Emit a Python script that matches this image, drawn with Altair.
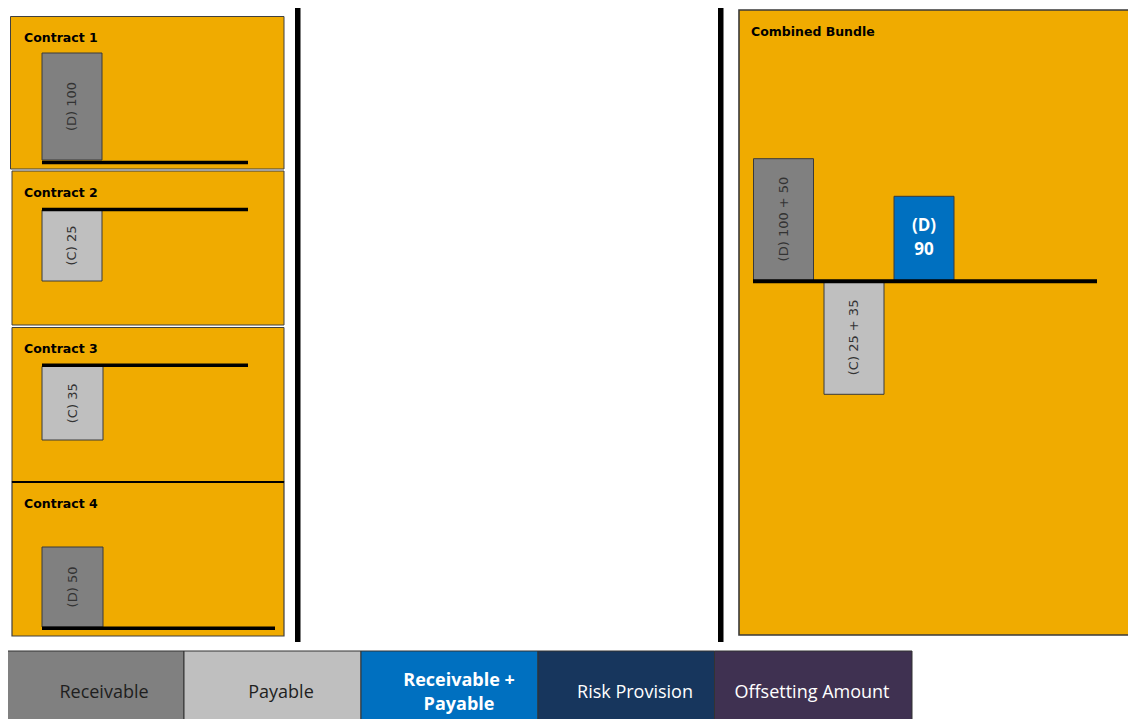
import altair as alt
import pandas as pd

# ---------------- data ----------------
contract_names = ["Contract 1", "Contract 2", "Contract 3", "Contract 4"]
contract_side = ["D", "C", "C", "D"]          # D = receivable (up), C = payable (down)
contract_amount = [100, 25, 35, 50]

bundle_title = "Combined Bundle"
bundle_labels = ["(D) 100 + 50", "(C) 25 + 35", "(D)\n90"]
bundle_side = ["D", "C", "D"]
bundle_amount = [150, 60, 90]
bundle_kind = ["Receivable", "Payable", "Receivable + Payable"]

legend_items = ["Receivable", "Payable", "Receivable + Payable",
                "Risk Provision", "Offsetting Amount"]
legend_text = ["Receivable", "Payable", "Receivable +\nPayable",
               "Risk Provision", "Offsetting Amount"]
legend_colors = ["#808080", "#BFBFBF", "#0070C0", "#17365D", "#3F3151"]

# ---------------- layout (page pixel frame) ----------------
W, H, OFF = 1120, 711, 8
ORANGE = "#F0AB00"

XS = alt.Scale(domain=[OFF, OFF + W], range=[0, W], nice=False, zero=False)


def frame_y():
    return alt.Scale(domain=[OFF, OFF + H], range=[0, H], nice=False, zero=False)


CS = alt.Scale(domain=legend_items, range=legend_colors)

panel_boxes = [(10.5, 284, 16.5, 169), (12, 284, 171, 325), (12, 284, 327.5, 482),
               (12, 284, 482, 636), (739, 1140, 10, 635)]
panel_strokes = ["#404040", "#404040", "#404040", "#404040", "#3a3a3a"]
panel_sw = [1, 1, 1, 1.2, 1.6]
title_pos = [(24, 41.5), (24, 197.3), (24, 353.3), (24, 508.3), (751, 36)]
baselines = [(42, 248, 162.5, 3.5), (42, 248, 209.5, 3.5), (42, 248, 365.3, 3.5),
             (42, 275, 628.3, 3.5), (753, 1097, 281.3, 4)]
separators = [(295, 300.5, 7, 642), (718, 723.5, 7, 642), (12, 284, 481, 483)]
legend_edges = [7, 184, 361, 538, 714.5, 912]
legend_y = (651, 745)
legend_text_x = [104, 281, 459, 635, 812]
legend_text_y = 693

contract_slots = [(42, 102), (42, 102), (42, 103), (42, 103)]
# where 0 and the full amount sit on each contract's (schematic) value axis
contract_calib = [(160, 53), (210, 281), (366.5, 440), (627, 547)]

bundle_slots = [(753.5, 813.5), (824, 884), (894, 954)]
# the bundle picture is schematic (not to scale): piecewise value axis
bundle_domain = [-60, 0, 45, 75, 90, 150]
bundle_range_px = [394.3, 280.5, 237.8, 219, 196.3, 158.7]

# ---------------- frame layers ----------------
frame_rows = []
for (x0, x1, y0, y1), st, sw in zip(panel_boxes, panel_strokes, panel_sw):
    frame_rows.append(dict(x0=x0, x1=x1, y0=y0, y1=y1, fill=ORANGE, stroke=st, sw=sw))
for (x0, x1, y0, y1) in separators:
    frame_rows.append(dict(x0=x0, x1=x1, y0=y0, y1=y1, fill="#000000", stroke="#000000", sw=0))
frame_df = pd.DataFrame(frame_rows)

frame = alt.Chart(frame_df).mark_rect().encode(
    x=alt.X("x0:Q", scale=XS, axis=None), x2="x1:Q",
    y=alt.Y("y0:Q", scale=frame_y(), axis=None), y2="y1:Q",
    fill=alt.Fill("fill:N", scale=None),
    stroke=alt.Stroke("stroke:N", scale=None),
    strokeWidth=alt.StrokeWidth("sw:Q", scale=None),
)

leg_df = pd.DataFrame(dict(
    item=legend_items,
    x0=legend_edges[:-1], x1=legend_edges[1:],
    y0=[legend_y[0]] * 5, y1=[legend_y[1]] * 5,
))
legend_boxes = alt.Chart(leg_df).mark_rect(stroke="#333333", strokeWidth=1).encode(
    x=alt.X("x0:Q", scale=XS, axis=None), x2="x1:Q",
    y=alt.Y("y0:Q", scale=frame_y(), axis=None), y2="y1:Q",
    color=alt.Color("item:N", scale=CS, legend=None),
)

base_df = pd.DataFrame([dict(x0=a, x1=b, y=y, sw=s) for a, b, y, s in baselines])
base_rules = alt.Chart(base_df).mark_rule(color="#000000").encode(
    x=alt.X("x0:Q", scale=XS, axis=None), x2="x1:Q",
    y=alt.Y("y:Q", scale=frame_y(), axis=None),
    strokeWidth=alt.StrokeWidth("sw:Q", scale=None),
)

title_df = pd.DataFrame(dict(
    t=contract_names + [bundle_title],
    x=[p[0] for p in title_pos], y=[p[1] for p in title_pos],
))
titles = alt.Chart(title_df).mark_text(
    font="DejaVu Sans", fontWeight="bold", fontSize=12.5, align="left",
    baseline="alphabetic", color="#000000",
).encode(
    x=alt.X("x:Q", scale=XS, axis=None),
    y=alt.Y("y:Q", scale=frame_y(), axis=None),
    text="t:N",
)

# ---------------- value layers (bars through value scales) ----------------
def sign(s):
    return 1 if s == "D" else -1


bar_layers, label_layers = [], []
for i in range(4):
    v = sign(contract_side[i]) * contract_amount[i]
    z_px, f_px = contract_calib[i]
    if v >= 0:
        dom, rng = [0, v], [z_px - OFF, f_px - OFF]
    else:
        dom, rng = [v, 0], [f_px - OFF, z_px - OFF]
    df = pd.DataFrame(dict(
        x0=[contract_slots[i][0]], x1=[contract_slots[i][1]],
        xc=[(contract_slots[i][0] + contract_slots[i][1]) / 2],
        zero=[0], val=[v], mid=[v / 2],
        kind=["Receivable" if v >= 0 else "Payable"],
        label=[f"({contract_side[i]}) {contract_amount[i]}"],
    ))

    def ys(dom=dom, rng=rng):
        return alt.Scale(domain=dom, range=rng, nice=False, zero=False)

    bar_layers.append(alt.Chart(df).mark_rect(stroke="#3a3a3a", strokeWidth=1).encode(
        x=alt.X("x0:Q", scale=XS, axis=None), x2="x1:Q",
        y=alt.Y("zero:Q", scale=ys(), axis=None), y2="val:Q",
        color=alt.Color("kind:N", scale=CS, legend=None),
    ))
    label_layers.append(alt.Chart(df).mark_text(
        angle=270, font="DejaVu Sans", fontSize=13, color="#333333",
        align="center", baseline="middle",
    ).encode(
        x=alt.X("xc:Q", scale=XS, axis=None),
        y=alt.Y("mid:Q", scale=ys(), axis=None),
        text="label:N",
    ))

bvals = [sign(s) * a for s, a in zip(bundle_side, bundle_amount)]
bdf = pd.DataFrame(dict(
    x0=[s[0] for s in bundle_slots], x1=[s[1] for s in bundle_slots],
    xc=[(s[0] + s[1]) / 2 for s in bundle_slots],
    zero=[0] * 3, val=bvals, mid=[v / 2 for v in bvals],
    kind=bundle_kind, label=bundle_labels,
))


def bys():
    return alt.Scale(domain=bundle_domain, range=[p - OFF for p in bundle_range_px],
                     nice=False, zero=False)


bar_layers.append(alt.Chart(bdf).mark_rect(stroke="#3a3a3a", strokeWidth=1).encode(
    x=alt.X("x0:Q", scale=XS, axis=None), x2="x1:Q",
    y=alt.Y("zero:Q", scale=bys(), axis=None), y2="val:Q",
    color=alt.Color("kind:N", scale=CS, legend=None),
))
label_layers.append(alt.Chart(bdf.iloc[:2]).mark_text(
    angle=270, font="DejaVu Sans", fontSize=13, color="#333333",
    align="center", baseline="middle",
).encode(
    x=alt.X("xc:Q", scale=XS, axis=None),
    y=alt.Y("mid:Q", scale=bys(), axis=None),
    text="label:N",
))
label_layers.append(alt.Chart(bdf.iloc[2:]).mark_text(
    font="Open Sans", fontWeight="bold", fontSize=17, color="#ffffff",
    align="center", baseline="middle", lineBreak="\n", lineHeight=24, dy=-12,
).encode(
    x=alt.X("xc:Q", scale=XS, axis=None),
    y=alt.Y("mid:Q", scale=bys(), axis=None),
    text="label:N",
))

# ---------------- legend texts ----------------
lt_df = pd.DataFrame(dict(
    t=legend_text, x=legend_text_x, y=[legend_text_y] * 5,
    tc=["#1e1e1e", "#1e1e1e", "#ffffff", "#ffffff", "#ffffff"],
    bold=[False, False, True, False, False],
))
leg_txt_regular = alt.Chart(lt_df[~lt_df.bold]).mark_text(
    font="Open Sans", fontSize=18, align="center", baseline="middle",
).encode(
    x=alt.X("x:Q", scale=XS, axis=None),
    y=alt.Y("y:Q", scale=frame_y(), axis=None),
    text="t:N",
    fill=alt.Fill("tc:N", scale=None),
)
leg_txt_bold = alt.Chart(lt_df[lt_df.bold]).mark_text(
    font="Open Sans", fontWeight="bold", fontSize=18, align="center",
    baseline="middle", lineBreak="\n", lineHeight=24, dy=-12,
).encode(
    x=alt.X("x:Q", scale=XS, axis=None),
    y=alt.Y("y:Q", scale=frame_y(), axis=None),
    text="t:N",
    fill=alt.Fill("tc:N", scale=None),
)

chart = alt.layer(
    frame, legend_boxes, *bar_layers, base_rules, titles, *label_layers,
    leg_txt_regular, leg_txt_bold,
).resolve_scale(y="independent").properties(
    width=W, height=H, padding=0,
    autosize=alt.AutoSizeParams(type="none"),
    background="#ffffff",
).configure_view(stroke=None)

chart.save("out.html", embed_options={"renderer": "svg", "actions": False})
